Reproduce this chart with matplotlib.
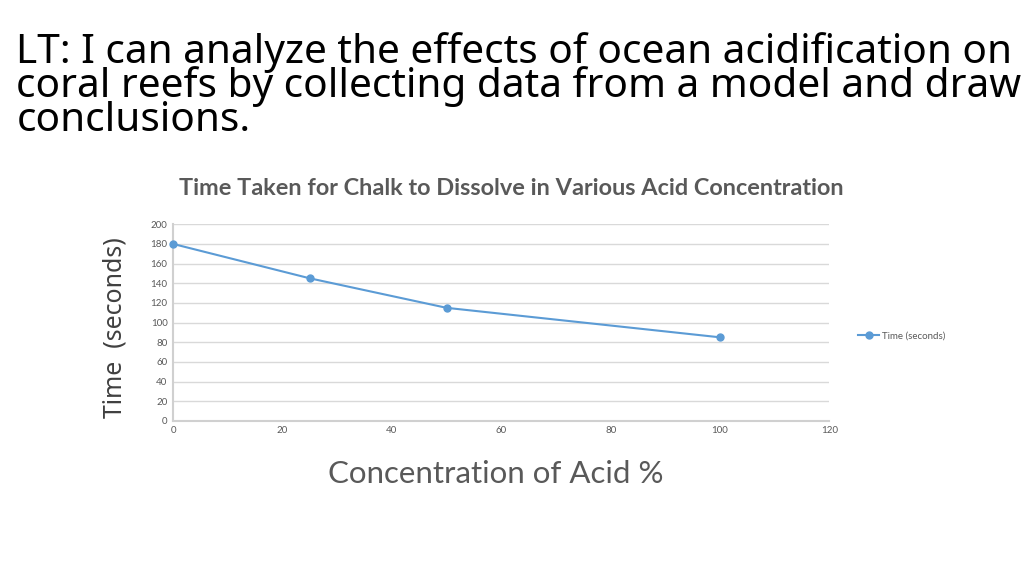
import matplotlib
matplotlib.use("Agg")
import matplotlib.pyplot as plt

# data
concentration = [0, 25, 50, 100]
time_seconds = [180, 145, 115, 85]
series_name = "Time (seconds)"

heading = ("LT: I can analyze the effects of ocean acidification on\n"
           "coral reefs by collecting data from a model and drawing\n"
           "conclusions.")
chart_title = "Time Taken for Chalk to Dissolve in Various Acid Concentration"
x_label = "Concentration of Acid %"
y_label = "Time  (seconds)"

blue = "#5b9bd5"
grey_txt = "#595959"

fig = plt.figure(figsize=(10.24, 5.75), dpi=100)
fig.text(0.016, 0.945, heading, fontsize=29.2, family="Noto Sans",
         color="black", va="top", ha="left", linespacing=0.8)

ax = fig.add_axes([0.169, 0.268, 0.641, 0.342])
ax.plot(concentration, time_seconds, color=blue, lw=1.5, marker="o",
        ms=5, label=series_name, clip_on=False, zorder=3)
ax.set_xlim(0, 120)
ax.set_ylim(0, 200)
ax.set_xticks(range(0, 121, 20))
ax.set_yticks(range(0, 201, 20))
ax.grid(axis="y", color="#d9d9d9", lw=1)
ax.set_axisbelow(True)
for s in ["top", "right"]:
    ax.spines[s].set_visible(False)
for s in ["left", "bottom"]:
    ax.spines[s].set_color("#d0d0d0")
    ax.spines[s].set_linewidth(1.5)
ax.tick_params(length=0, labelsize=7, labelcolor=grey_txt, pad=4)
for lab in ax.get_xticklabels() + ax.get_yticklabels():
    lab.set_family("Lato")

fig.text(0.499, 0.673, chart_title, fontsize=16.9, family="Lato",
         weight="bold", color=grey_txt, ha="center", va="center")
fig.text(0.484, 0.175, x_label, fontsize=22.5, family="Lato",
         color=grey_txt, ha="center", va="center")
fig.text(0.112, 0.43, y_label, fontsize=17.9, family="Noto Sans",
         color="#404040", ha="center", va="center", rotation=90)

leg = ax.legend(loc="center left", bbox_to_anchor=(1.03, 0.43),
                frameon=False, prop={"family": "Lato", "size": 7},
                handlelength=2.2, handletextpad=0.3)
for t in leg.get_texts():
    t.set_color(grey_txt)

fig.savefig("out.png", dpi=100)
